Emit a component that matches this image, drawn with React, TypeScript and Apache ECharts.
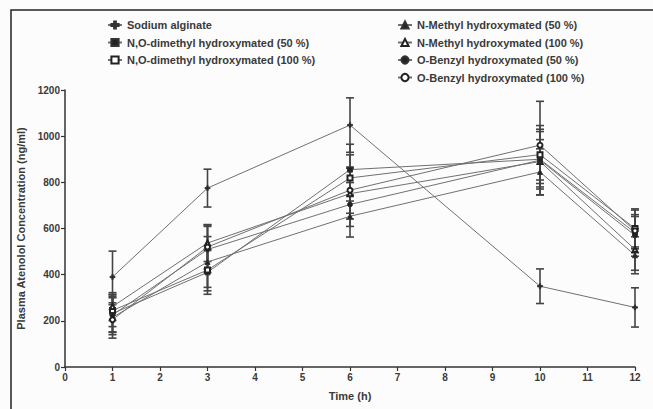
import React, { useEffect, useRef } from "react";
import * as echarts from "echarts";

const times = [1, 3, 6, 10, 12];
const xTicks = [0, 1, 2, 3, 4, 5, 6, 7, 8, 9, 10, 11, 12];

const seriesNames = [
  "Sodium alginate",
  "N,O-dimethyl hydroxymated (50 %)",
  "N,O-dimethyl hydroxymated (100 %)",
  "N-Methyl hydroxymated (50 %)",
  "N-Methyl hydroxymated (100 %)",
  "O-Benzyl hydroxymated (50 %)",
  "O-Benzyl hydroxymated (100 %)",
];

const sodiumAlginate = [390, 775, 1048, 350, 258];
const sodiumAlginateSD = [112, 82, 118, 75, 85];
const nodm50 = [232, 410, 855, 900, 582];
const nodm50SD = [80, 95, 110, 120, 70];
const nodm100 = [245, 420, 819, 920, 600];
const nodm100SD = [70, 90, 100, 110, 80];
const nm50 = [215, 455, 653, 845, 484];
const nm50SD = [90, 110, 90, 100, 80];
const nm100 = [262, 537, 751, 890, 509];
const nm100SD = [60, 80, 110, 95, 90];
const ob50 = [225, 509, 704, 896, 570];
const ob50SD = [75, 100, 95, 150, 90];
const ob100 = [205, 520, 766, 961, 590];
const ob100SD = [65, 95, 100, 190, 95];

const allValues = [sodiumAlginate, nodm50, nodm100, nm50, nm100, ob50, ob100];
const allSD = [sodiumAlginateSD, nodm50SD, nodm100SD, nm50SD, nm100SD, ob50SD, ob100SD];

const plusPath = "path://M-1,-4H1V-1H4V1H1V4H-1V1H-4V-1H-1Z";
const symbols = [plusPath, "rect", "emptyRect", "triangle", "emptyTriangle", "circle", "emptyCircle"];
const symbolSizes = [5, 5, 5, 5, 5, 5, 5];

export default function App() {
  const ref = useRef<HTMLDivElement>(null);

  useEffect(() => {
    if (!ref.current) return;
    const chart = echarts.init(ref.current, undefined, { renderer: "svg" });

    const errData: number[][] = [];
    allValues.forEach((vals, si) => {
      vals.forEach((v, i) => {
        errData.push([times[i], v - allSD[si][i], v + allSD[si][i]]);
      });
    });

    const lineSeries = allValues.map((vals, si) => ({
      name: seriesNames[si],
      type: "line",
      data: vals.map((v, i) => [times[i], v]),
      symbol: symbols[si],
      symbolSize: symbolSizes[si],
      lineStyle: { color: "#707070", width: 1 },
      itemStyle: { color: "#222", borderColor: "#333", borderWidth: 1 },
      z: 3,
    }));

    const errorSeries = {
      name: "err",
      type: "custom",
      data: errData,
      z: 2,
      renderItem: (params: any, api: any) => {
        const x = api.value(0);
        const lo = api.coord([x, api.value(1)]);
        const hi = api.coord([x, api.value(2)]);
        const hw = 4;
        const style = { stroke: "#444", lineWidth: 1.6 };
        return {
          type: "group",
          children: [
            { type: "line", shape: { x1: lo[0], y1: lo[1], x2: hi[0], y2: hi[1] }, style },
            { type: "line", shape: { x1: lo[0] - hw, y1: lo[1], x2: lo[0] + hw, y2: lo[1] }, style },
            { type: "line", shape: { x1: hi[0] - hw, y1: hi[1], x2: hi[0] + hw, y2: hi[1] }, style },
          ],
        };
      },
    };

    const legendText = {
      fontFamily: "Liberation Sans, Arial, sans-serif",
      fontSize: 11,
      fontWeight: "bold",
      color: "#3a3a3a",
      lineHeight: 12,
    };

    const axisNameStyle = {
      fontFamily: "Liberation Sans, Arial, sans-serif",
      fontSize: 11,
      fontWeight: "bold",
      color: "#3a3a3a",
    };

    chart.setOption({
      animation: false,
      backgroundColor: "#fcfcfc",
      textStyle: { fontFamily: "Liberation Sans, Arial, sans-serif" },
      grid: { left: 65, right: 18, top: 90, bottom: 42, containLabel: false },
      legend: [
        {
          data: seriesNames.slice(0, 3),
          orient: "vertical",
          left: 102,
          top: 14,
          itemWidth: 14,
          itemHeight: 9,
          itemGap: 5.5,
          textStyle: legendText,
        },
        {
          data: seriesNames.slice(3),
          orient: "vertical",
          left: 392,
          top: 14,
          itemWidth: 14,
          itemHeight: 9,
          itemGap: 5.5,
          textStyle: legendText,
        },
      ],
      xAxis: {
        type: "value",
        min: xTicks[0],
        max: xTicks[xTicks.length - 1],
        interval: 1,
        name: "Time (h)",
        nameLocation: "middle",
        nameGap: 23,
        nameTextStyle: axisNameStyle,
        axisLine: { lineStyle: { color: "#333", width: 1.5 } },
        axisTick: { length: 4, lineStyle: { color: "#333", width: 1.2 } },
        axisLabel: { fontSize: 10, fontWeight: "bold", color: "#3a3a3a", margin: 5 },
        splitLine: { show: false },
      },
      yAxis: {
        type: "value",
        min: 0,
        max: 1200,
        interval: 200,
        name: "Plasma Atenolol Concentration (ng/ml)",
        nameLocation: "middle",
        nameGap: 35,
        nameTextStyle: axisNameStyle,
        axisLine: { show: true, lineStyle: { color: "#333", width: 1.5 } },
        axisTick: { show: true, length: 4, lineStyle: { color: "#333", width: 1.2 } },
        axisLabel: {
          fontSize: 10,
          fontWeight: "bold",
          color: "#3a3a3a",
          margin: 5,
          formatter: (v: number) => String(v),
        },
        splitLine: { show: false },
      },
      graphic: [
        {
          type: "rect",
          shape: { x: 11, y: 10, width: 700, height: 500 },
          style: { fill: "none", stroke: "#222", lineWidth: 1.5 },
          silent: true,
        },
      ],
      series: [errorSeries, ...lineSeries],
    });

    return () => chart.dispose();
  }, []);

  return (
    <div
      ref={ref}
      style={{ position: "fixed", left: 0, top: 0, width: 653, height: 409 }}
    />
  );
}
